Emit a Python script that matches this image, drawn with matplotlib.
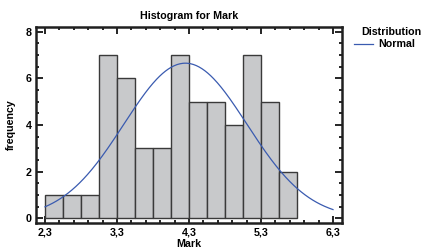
import matplotlib.pyplot as plt
import numpy as np
from matplotlib.ticker import MultipleLocator, FixedLocator

plt.rcParams['font.family'] = ['Liberation Sans', 'DejaVu Sans']
plt.rcParams['font.weight'] = 'bold'

# histogram data
bin_start = 2.3
bin_width = 0.25
counts = [1, 1, 1, 7, 6, 3, 3, 7, 5, 5, 4, 7, 5, 2]

# fitted normal distribution (estimated)
mean = 4.25
sd = 0.855

xticks = [2.3, 3.3, 4.3, 5.3, 6.3]
xtick_labels = ['2,3', '3,3', '4,3', '5,3', '6,3']
yticks = [0, 2, 4, 6, 8]

fs = 7.7

fig = plt.figure(figsize=(4.22, 2.49), dpi=100)
ax = fig.add_axes([0.0853, 0.1044, 0.7251, 0.7872])

edges = bin_start + bin_width * np.arange(len(counts))
ax.bar(edges, counts, width=bin_width, align='edge', color='#c8c9cb',
       edgecolor='#3a3a3a', linewidth=1.0, zorder=2)

n = sum(counts)
xs = np.linspace(2.3, 6.3, 300)
ys = n * bin_width * np.exp(-0.5 * ((xs - mean) / sd) ** 2) / (sd * np.sqrt(2 * np.pi))
line, = ax.plot(xs, ys, color='#3a5bb0', linewidth=0.9, zorder=3)

ax.set_xlim(2.175, 6.425)
ax.set_ylim(-0.2, 8.2)
ax.set_xticks(xticks)
ax.set_xticklabels(xtick_labels)
ax.set_yticks(yticks)
ax.xaxis.set_minor_locator(FixedLocator(np.arange(2.3, 6.31, 0.2)))
ax.yaxis.set_minor_locator(MultipleLocator(0.5))
ax.tick_params(which='both', direction='in', top=True, right=True,
               labelsize=fs, width=1.2, pad=3)
ax.tick_params(which='major', length=5)
ax.tick_params(which='minor', length=2.5)
for s in ax.spines.values():
    s.set_linewidth(1.8)
    s.set_color('#202020')

ax.set_title('Histogram for Mark', fontsize=fs, fontweight='bold', pad=6)
ax.set_xlabel('Mark', fontsize=fs, fontweight='bold', labelpad=1.5)
ax.set_ylabel('frequency', fontsize=fs, fontweight='bold', labelpad=7)

fig.text(0.927, 0.872, 'Distribution', fontsize=fs, fontweight='bold', ha='center', va='center')
fig.legend([line], ['Normal'], loc='center left', bbox_to_anchor=(0.838, 0.822),
           frameon=False, fontsize=fs, handlelength=1.8, handletextpad=0.5,
           borderaxespad=0, borderpad=0)

fig.savefig('out.png', dpi=100)
